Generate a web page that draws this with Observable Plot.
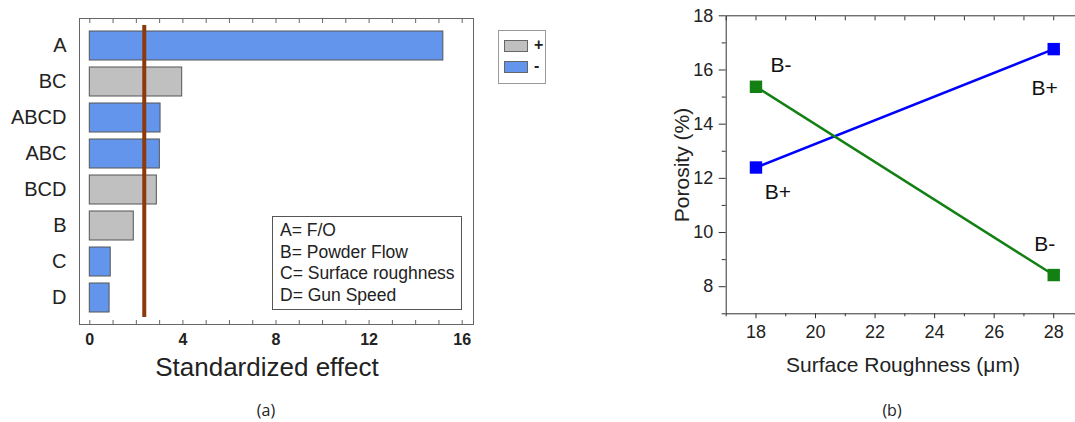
<!DOCTYPE html>
<html><head><meta charset="utf-8">
<script src="https://cdn.jsdelivr.net/npm/d3@7"></script>
<script src="https://cdn.jsdelivr.net/npm/@observablehq/plot@0.6"></script>
<style>
html,body{margin:0;padding:0;background:#fff;overflow:hidden}
#wrap{position:relative;width:1075px;height:422px;overflow:hidden;font-family:Arial,"Liberation Sans",sans-serif;color:#222;background:#fff}
.abs{position:absolute;white-space:nowrap}
svg{overflow:visible}
</style></head><body><div id="wrap"></div>
<script>
// Panel (a): Pareto chart of standardized effects
const terms = ["A", "BC", "ABCD", "ABC", "BCD", "B", "C", "D"];
const effects = [15.19, 3.97, 3.04, 3.01, 2.88, 1.89, 0.90, 0.85];
const signs = ["-", "+", "-", "-", "+", "+", "-", "-"];
const referenceEffect = 2.34;
const effectTicks = [0, 4, 8, 12, 16];
const factorKey = ["A= F/O", "B= Powder Flow", "C= Surface roughness", "D= Gun Speed"];

// Panel (b): interaction plot
const roughness = [18, 28];
const porosityBplus = [12.4, 16.77];
const porosityBminus = [15.38, 8.43];
const roughnessTicks = [18, 20, 22, 24, 26, 28];
const porosityTicks = [8, 10, 12, 14, 16, 18];

const wrap = document.getElementById("wrap");
const font = "Arial, 'Liberation Sans', sans-serif";

const effectData = terms.map((t, i) => ({term: t, effect: effects[i], sign: signs[i]}));

const left = Plot.plot({
  width: 476, height: 350,
  marginLeft: 79, marginRight: 3, marginTop: 18, marginBottom: 26,
  x: {domain: [0, 16], insetLeft: 10.3, insetRight: 11.3, label: null},
  y: {domain: terms, range: [30, 312], paddingInner: 0.2, paddingOuter: 0, label: null},
  color: {domain: ["+", "-"], range: ["#c0c0c0", "#6495ed"]},
  style: {fontFamily: font, color: "#222", background: "transparent"},
  marks: [
    Plot.frame({stroke: "#666"}),
    Plot.barX(effectData, {x: "effect", y: "term", fill: "sign", stroke: "#555", strokeWidth: 1}),
    Plot.ruleX([referenceEffect], {stroke: "#8b3a0e", strokeWidth: 4, insetTop: 7, insetBottom: 7}),
    Plot.axisX({anchor: "bottom", ticks: d3.range(0, 17, 1), tickSize: 4, dy: -4, text: null, stroke: "#666"}),
    Plot.axisX({anchor: "top", ticks: d3.range(0, 17, 1), tickSize: 4, dy: 4, text: null, stroke: "#666"}),
    Plot.axisX({anchor: "bottom", ticks: effectTicks, tickSize: 0, tickPadding: 9, fontSize: 16, fontWeight: "bold", fill: "#222"}),
    Plot.axisY({anchor: "left", tickSize: 0, tickPadding: 13, fontSize: 20, fill: "#222"})
  ]
});
left.style.position = "absolute";
left.style.left = "0px";
left.style.top = "0px";
wrap.appendChild(left);

const lineData = [
  ...roughness.map((x, i) => ({x, y: porosityBplus[i], s: "B+"})),
  ...roughness.map((x, i) => ({x, y: porosityBminus[i], s: "B-"}))
];
const pick = (s, x) => lineData.filter(d => d.s === s && d.x === x);

const right = Plot.plot({
  width: 445, height: 350,
  marginLeft: 85.7, marginRight: 2, marginTop: 15.3, marginBottom: 36.7,
  x: {domain: [17, 29], label: null},
  y: {domain: [7, 18], label: null},
  color: {domain: ["B+", "B-"], range: ["#0000ff", "#138013"]},
  style: {fontFamily: font, color: "#222", background: "transparent"},
  marks: [
    Plot.frame({stroke: "#333"}),
    Plot.axisY({ticks: d3.range(7, 18, 2), tickSize: 4, text: null, stroke: "#333"}),
    Plot.axisY({ticks: porosityTicks, tickSize: 7, tickPadding: 6, fontSize: 18, fill: "#222", stroke: "#333"}),
    Plot.axisX({ticks: d3.range(17, 30, 2), tickSize: 3, text: null, stroke: "#333"}),
    Plot.axisX({ticks: roughnessTicks, tickSize: 5, tickPadding: 6, fontSize: 18, fill: "#222", stroke: "#333"}),
    Plot.axisX({anchor: "top", ticks: d3.range(17, 30, 1), tickSize: 4, dy: 4, text: null, stroke: "#333"}),
    Plot.line(lineData, {x: "x", y: "y", z: "s", stroke: "s", strokeWidth: 2.5}),
    Plot.dot(lineData, {x: "x", y: "y", symbol: "square", r: 7, fill: "s"}),
    Plot.text(pick("B-", 18), {x: "x", y: "y", text: "s", dx: 25, dy: -22, fontSize: 21, fill: "#111"}),
    Plot.text(pick("B+", 18), {x: "x", y: "y", text: "s", dx: 22, dy: 25, fontSize: 21, fill: "#111"}),
    Plot.text(pick("B+", 28), {x: "x", y: "y", text: "s", dx: -9, dy: 39, fontSize: 21, fill: "#111"}),
    Plot.text(pick("B-", 28), {x: "x", y: "y", text: "s", dx: -9, dy: -31, fontSize: 21, fill: "#111"})
  ]
});
right.style.position = "absolute";
right.style.left = "640px";
right.style.top = "0px";
wrap.appendChild(right);

function addText(txt, cx, cy, css) {
  const d = document.createElement("div");
  d.className = "abs";
  d.textContent = txt;
  Object.assign(d.style, css);
  wrap.appendChild(d);
  const r = d.getBoundingClientRect();
  d.style.left = (cx - r.width / 2) + "px";
  d.style.top = (cy - r.height / 2) + "px";
  return d;
}

addText("Standardized effect", 267, 367, {fontSize: "26px"});
addText("(a)", 266, 410, {fontSize: "16px", fontFamily: "'Open Sans', sans-serif"});
addText("(b)", 892, 410, {fontSize: "16px", fontFamily: "'Open Sans', sans-serif"});
addText("Surface Roughness (\u03bcm)", 903, 365, {fontSize: "21px"});
const py = addText("Porosity (%)", 682, 165, {fontSize: "21px"});
py.style.transform = "rotate(-90deg)";

// factor key box
const key = document.createElement("div");
key.className = "abs";
Object.assign(key.style, {left: "272px", top: "216px", width: "188px", height: "92px", border: "1px solid #555", background: "#fff", boxSizing: "content-box"});
factorKey.forEach((t, i) => {
  const l = document.createElement("div");
  l.className = "abs";
  l.textContent = t;
  Object.assign(l.style, {left: "7px", top: (3 + i * 21.5) + "px", fontSize: "17.5px", lineHeight: "21px"});
  key.appendChild(l);
});
wrap.appendChild(key);

// sign legend
const leg = document.createElement("div");
leg.className = "abs";
Object.assign(leg.style, {left: "498px", top: "30px", width: "46px", height: "52px", border: "1px solid #999", background: "#fff"});
[["+", "#c0c0c0", 9], ["-", "#6495ed", 30]].forEach(([s, c, y]) => {
  const sw = document.createElement("div");
  sw.className = "abs";
  Object.assign(sw.style, {left: "5px", top: y + "px", width: "22px", height: "10px", background: c, border: "1px solid #666"});
  leg.appendChild(sw);
  const t = document.createElement("div");
  t.className = "abs";
  t.textContent = s;
  Object.assign(t.style, {left: "35px", top: (y - 5) + "px", fontSize: "16px", fontWeight: "bold", lineHeight: "20px"});
  leg.appendChild(t);
});
wrap.appendChild(leg);
</script>
</body></html>
